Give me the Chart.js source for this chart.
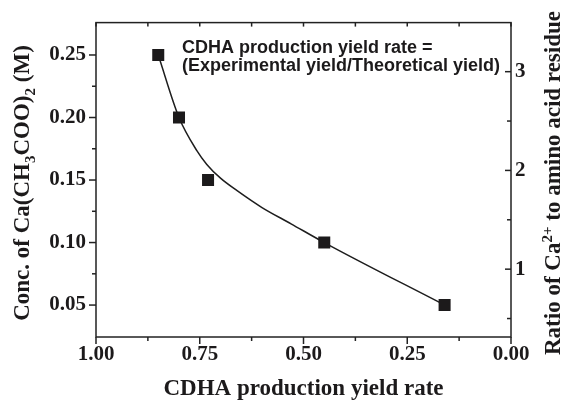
<!DOCTYPE html>
<html>
<head>
<meta charset="utf-8">
<script src="https://cdn.jsdelivr.net/npm/chart.js@4.4.1/dist/chart.umd.min.js"></script>
<style>
  html, body { margin: 0; padding: 0; background: #ffffff; }
  #wrap { width: 564px; height: 402px; position: relative; }
</style>
</head>
<body>
<div id="wrap"><canvas id="c" width="564" height="402"></canvas></div>
<script>
// Measured points: production yield rate vs. calcium acetate concentration
const yieldRate = [0.85, 0.80, 0.73, 0.45, 0.16];
const concentration = [0.25, 0.20, 0.15, 0.10, 0.05];

// Knots of the smooth guide curve through the series
const fitYield = [0.85, 0.80, 0.757, 0.733, 0.70, 0.66, 0.60, 0.53, 0.45, 0.16];
const fitConc = [0.25, 0.20, 0.1735, 0.1625, 0.1515, 0.1415, 0.128, 0.115, 0.10, 0.05];

// Axis ticks
const xTicks = [1.00, 0.75, 0.50, 0.25, 0.00];
const xMinorTicks = [0.875, 0.625, 0.375, 0.125];
const concTicks = [0.05, 0.10, 0.15, 0.20, 0.25];
const concMinorTicks = [0.075, 0.125, 0.175, 0.225];
const ratioTicks = [1, 2, 3];
const ratioMinorTicks = [0.5, 1.5, 2.5];

// Text
const xTitle = 'CDHA production yield rate';
const yTitleParts = [
  { t: 'Conc. of Ca(CH' }, { t: '3', sub: true }, { t: 'COO)' }, { t: '2', sub: true }, { t: ' (M)' }
];
const y2TitleParts = [
  { t: 'Ratio of Ca' }, { t: '2+', sup: true }, { t: ' to amino acid residue' }
];
const noteLines = ['CDHA production yield rate =', '(Experimental yield/Theoretical yield)'];

const INK = '#1c1a1b';
const SERIF = '"Liberation Serif", "Times New Roman", serif';
const SANS = '"Liberation Sans", Arial, sans-serif';
const tickFont = { family: SERIF, size: 21, weight: 'bold' };

function drawRich(ctx, parts, cx, cy, rot, size) {
  ctx.save();
  ctx.translate(cx, cy);
  ctx.rotate(rot);
  ctx.textAlign = 'left';
  ctx.textBaseline = 'alphabetic';
  ctx.fillStyle = INK;
  let total = 0;
  const small = Math.round(size * 0.65);
  parts.forEach(p => {
    p.size = (p.sub || p.sup) ? small : size;
    p.dy = p.sub ? size * 0.26 : (p.sup ? -size * 0.34 : 0);
    ctx.font = `bold ${p.size}px ${SERIF}`;
    p.w = ctx.measureText(p.t).width;
    total += p.w;
  });
  let xx = -total / 2;
  parts.forEach(p => {
    ctx.font = `bold ${p.size}px ${SERIF}`;
    ctx.fillText(p.t, xx, p.dy);
    xx += p.w;
  });
  ctx.restore();
}

// Boxed frame, inner/outer tick marks, axis titles and the note
const frameAndLabels = {
  id: 'frameAndLabels',
  afterDraw(chart) {
    const { ctx, chartArea: a, scales } = chart;
    const sx = scales.x, sy = scales.y, sy2 = scales.y2;
    ctx.save();
    ctx.strokeStyle = '#222';
    ctx.lineWidth = 1.5;
    ctx.strokeRect(a.left, a.top, a.right - a.left, a.bottom - a.top);
    const seg = (x1, y1, x2, y2) => { ctx.beginPath(); ctx.moveTo(x1, y1); ctx.lineTo(x2, y2); ctx.stroke(); };

    xTicks.forEach(v => {
      const p = sx.getPixelForValue(v);
      seg(p, a.bottom, p, a.bottom + 7);
      seg(p, a.top, p, a.top + 4);
    });
    xMinorTicks.forEach(v => {
      const p = sx.getPixelForValue(v);
      seg(p, a.bottom, p, a.bottom + 4);
      seg(p, a.top, p, a.top + 4);
    });
    concTicks.forEach(v => { const p = sy.getPixelForValue(v); seg(a.left - 7, p, a.left, p); });
    concMinorTicks.forEach(v => { const p = sy.getPixelForValue(v); seg(a.left - 4, p, a.left, p); });
    ratioTicks.forEach(v => { const p = sy2.getPixelForValue(v); seg(a.right - 6, p, a.right, p); });
    ratioMinorTicks.forEach(v => { const p = sy2.getPixelForValue(v); seg(a.right - 4, p, a.right, p); });

    // Axis titles
    ctx.fillStyle = INK;
    ctx.font = `bold 23px ${SERIF}`;
    ctx.textAlign = 'center';
    ctx.textBaseline = 'alphabetic';
    ctx.fillText(xTitle, (a.left + a.right) / 2, 395);
    drawRich(ctx, yTitleParts, 29, 183, -Math.PI / 2, 23);
    drawRich(ctx, y2TitleParts, 560, 183, -Math.PI / 2, 23);

    // Note inside the plot
    ctx.font = `bold 18px ${SANS}`;
    ctx.textAlign = 'left';
    ctx.fillText(noteLines[0], 182, 53);
    ctx.fillText(noteLines[1], 182, 71);
    ctx.restore();
  }
};

new Chart(document.getElementById('c'), {
  type: 'scatter',
  data: {
    datasets: [
      {
        label: 'guide',
        data: fitYield.map((v, i) => ({ x: v, y: fitConc[i] })),
        showLine: true,
        borderColor: '#1e1e1e',
        borderWidth: 1.5,
        pointRadius: 0,
        cubicInterpolationMode: 'monotone',
        yAxisID: 'y',
        order: 2
      },
      {
        label: 'conc',
        data: yieldRate.map((v, i) => ({ x: v, y: concentration[i] })),
        showLine: false,
        pointStyle: 'rect',
        pointRadius: 8.5,
        pointBackgroundColor: INK,
        pointBorderColor: INK,
        pointBorderWidth: 0,
        yAxisID: 'y',
        order: 1
      }
    ]
  },
  options: {
    responsive: false,
    animation: false,
    devicePixelRatio: 1,
    layout: { padding: { top: 17, left: 0, right: 0, bottom: 0 } },
    plugins: { legend: { display: false }, tooltip: { enabled: false } },
    scales: {
      x: {
        type: 'linear',
        reverse: true,
        min: 0,
        max: 1,
        grid: { display: false, drawTicks: false },
        border: { display: false },
        afterBuildTicks: s => { s.ticks = xTicks.map(v => ({ value: v })); },
        afterFit: s => { s.height = 65; },
        ticks: { font: tickFont, color: INK, padding: 5, maxRotation: 0, callback: v => Number(v).toFixed(2) }
      },
      y: {
        type: 'linear',
        position: 'left',
        min: 0.02446,
        max: 0.2759,
        grid: { display: false, drawTicks: false },
        border: { display: false },
        afterBuildTicks: s => { s.ticks = concTicks.map(v => ({ value: v })); },
        afterFit: s => { s.width = 96; },
        ticks: { font: tickFont, color: INK, padding: 10, callback: v => Number(v).toFixed(2) }
      },
      y2: {
        type: 'linear',
        position: 'right',
        min: 0.313,
        max: 3.497,
        grid: { display: false, drawTicks: false },
        border: { display: false },
        afterBuildTicks: s => { s.ticks = ratioTicks.map(v => ({ value: v })); },
        afterFit: s => { s.width = 53; },
        ticks: { font: tickFont, color: INK, padding: 4, callback: v => String(v) }
      }
    }
  },
  plugins: [frameAndLabels]
});
</script>
</body>
</html>
